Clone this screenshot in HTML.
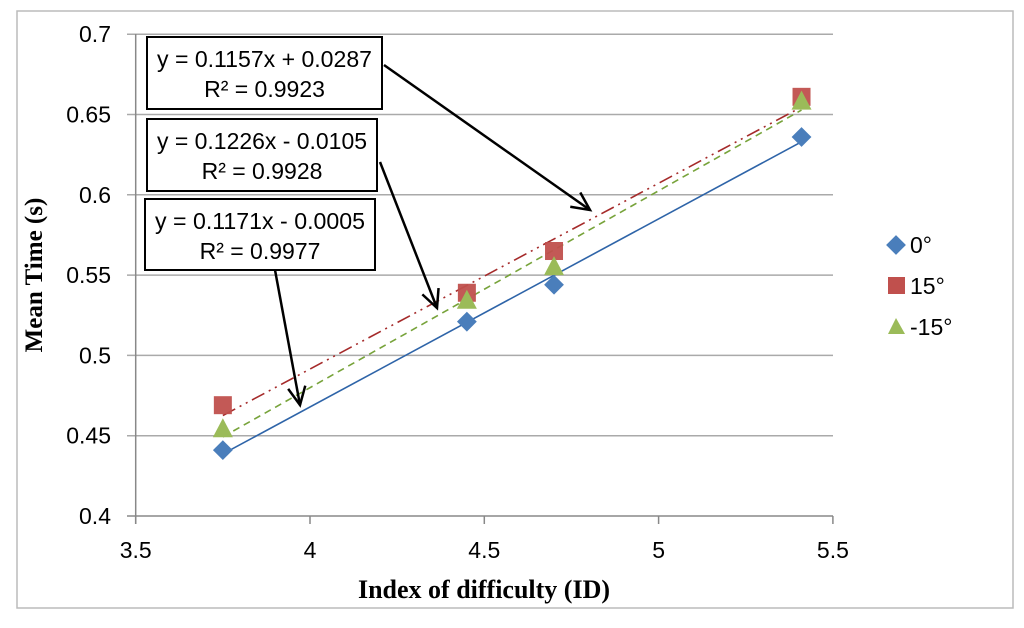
<!DOCTYPE html>
<html><head><meta charset="utf-8"><style>
body{margin:0;background:#fff}
svg text{font-family:"Liberation Sans",sans-serif}
</style></head><body>
<svg id="chart" width="1024" height="623" xmlns="http://www.w3.org/2000/svg">
<rect x="17" y="11" width="996" height="597" fill="#fff" stroke="#bbb" stroke-width="1.5"/>
<g id="grid"></g><g id="axes"></g><g id="trend"></g><g id="marks"></g><g id="ann"></g>
<text x="42" y="275" transform="rotate(-90 42 275)" text-anchor="middle" style="font-family:'Liberation Serif',serif" font-weight="bold" font-size="25">Mean Time (s)</text>
<text x="484" y="598" text-anchor="middle" style="font-family:'Liberation Serif',serif" font-weight="bold" font-size="26">Index of difficulty (ID)</text>
<g>
<rect x="889" y="238" width="14" height="14" fill="#4a7ebb" transform="rotate(45 896 245)"/>
<text x="910" y="253" font-size="23">0°</text>
<rect x="888" y="277" width="17" height="17" fill="#c0504d"/>
<text x="910" y="294" font-size="23">15°</text>
<polygon points="888,334 896,318 905,334" fill="#9bbb59"/>
<text x="910" y="335" font-size="23">-15°</text>
</g>
</svg>
<script>
const xTicks=[3.5,4,4.5,5,5.5];
const xTickLabels=["3.5","4","4.5","5","5.5"];
const yTicks=[0.4,0.45,0.5,0.55,0.6,0.65,0.7];
const yTickLabels=["0.4","0.45","0.5","0.55","0.6","0.65","0.7"];
const xVals=[3.75,4.45,4.70,5.41];
const s0=[0.441,0.521,0.544,0.636];
const s15=[0.469,0.539,0.565,0.661];
const sn15=[0.454,0.534,0.555,0.658];
const slopes=[0.1171,0.1157,0.1226];
const intercepts=[-0.0005,0.0287,-0.0105];
const NS="http://www.w3.org/2000/svg";
const X=v=>135.7+(v-3.5)*348.6;
const Y=v=>516-(v-0.4)*1606;
function mk(tag,attrs,parent){const e=document.createElementNS(NS,tag);for(const k in attrs)e.setAttribute(k,attrs[k]);document.getElementById(parent).appendChild(e);return e;}
yTicks.forEach((t,i)=>{
 const g=mk('line',{x1:127,x2:833,y1:Y(t),y2:Y(t),stroke:i===0?'#888':'#aaa','stroke-width':1.5},'grid');
 
 
 const l=mk('text',{x:111,y:Y(t)+8,'text-anchor':'end','font-size':23},'axes');l.textContent=yTickLabels[i];
 
 
});
const ya=mk('line',{x1:135.7,x2:135.7,y1:34,y2:524,stroke:'#888','stroke-width':1.5},'axes');


xTicks.forEach((t,i)=>{
 const tk=mk('line',{x1:X(t),x2:X(t),y1:516,y2:524,stroke:'#888','stroke-width':1.5},'axes');
 
 
 const l=mk('text',{x:X(t),y:558,'text-anchor':'middle','font-size':23},'axes');l.textContent=xTickLabels[i];
 
 
});
const styles=[{c:'#2e64a8',d:''},{c:'#a52a2a',d:'14 5 2 5 2 5'},{c:'#77a33a',d:'7 5'}];
const tnames=['trendline-0','trendline-15','trendline-neg15'];
slopes.forEach((m,i)=>{
 const x0=xVals[0],x1=xVals[xVals.length-1];
 const ln=mk('line',{x1:X(x0),y1:Y(m*x0+intercepts[i]),x2:X(x1),y2:Y(m*x1+intercepts[i]),stroke:styles[i].c,'stroke-width':1.6,'stroke-dasharray':styles[i].d},'trend');
 
 
});
xVals.forEach((x,i)=>{
 const cx=X(x);
 let cy=Y(s15[i]);
 const r=mk('rect',{x:cx-9,y:cy-9,width:18,height:18,fill:'#c0504d',opacity:0.95},'marks');
 
 
 cy=Y(sn15[i]);
 const t=mk('polygon',{points:`${cx-10},${cy+8} ${cx},${cy-11} ${cx+10},${cy+8}`,fill:'#9bbb59'},'marks');
 
 
 cy=Y(s0[i]);
 const d=mk('rect',{x:cx-7,y:cy-7,width:14,height:14,fill:'#4a7ebb',transform:`rotate(45 ${cx} ${cy})`},'marks');
 
 
});
const boxes=[[147,37,235,72,"y = 0.1157x + 0.0287","R² = 0.9923",[384,65,590,210]],[147,119,230,72,"y = 0.1226x - 0.0105","R² = 0.9928",[380,162,437,308]],[145,199,230,71,"y = 0.1171x - 0.0005","R² = 0.9977",[275,270,300,405]]];
boxes.forEach((b,i)=>{
 const r=mk('rect',{x:b[0],y:b[1],width:b[2],height:b[3],fill:'#fff',stroke:'#000','stroke-width':2},'ann');
 
 
 const cx=b[0]+b[2]/2;
 const t1=mk('text',{x:cx,y:b[1]+30,'text-anchor':'middle','font-size':23,textLength:b[2]-20,lengthAdjust:'spacingAndGlyphs'},'ann');t1.textContent=b[4];
 
 
 const t2=mk('text',{x:cx,y:b[1]+60,'text-anchor':'middle','font-size':23},'ann');t2.textContent=b[5];
 
 
 const a=b[6];
 const ln=mk('line',{x1:a[0],y1:a[1],x2:a[2],y2:a[3],stroke:'#000','stroke-width':2.5},'ann');
 
 
 const ang=Math.atan2(a[3]-a[1],a[2]-a[0]),L=20;
 const p1=[a[2]-L*Math.cos(ang-0.45),a[3]-L*Math.sin(ang-0.45)],p2=[a[2]-L*Math.cos(ang+0.45),a[3]-L*Math.sin(ang+0.45)];
 const h=mk('polyline',{points:`${p1} ${a[2]},${a[3]} ${p2}`,fill:'none',stroke:'#000','stroke-width':2.5},'ann');
 
 
});
</script>
</body></html>
